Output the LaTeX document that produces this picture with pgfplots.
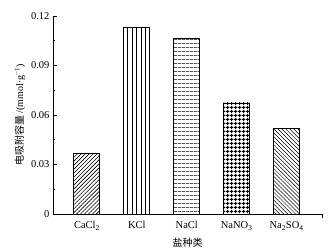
\documentclass[border=0pt]{standalone}
\usepackage{fontspec}
\setmainfont{Liberation Serif}
\newfontfamily\cjk{Noto Sans CJK SC}
\usepackage{pgfplots}
\pgfplotsset{compat=1.18}
\usetikzlibrary{patterns.meta}
\begin{document}
\begin{tikzpicture}
\useasboundingbox (0,0) rectangle (332pt,251pt);
\begin{axis}[
  at={(53pt,37pt)}, anchor=south west,
  scale only axis, width=269pt, height=198pt,
  xmin=-0.68, xmax=4.71, ymin=0, ymax=0.12,
  axis lines*=left,
  axis line style={line width=0.8pt},
  font=\fontsize{10.5}{12}\selectfont,
  /pgf/number format/assume math mode=true,
  ytick={0,0.03,0.06,0.09,0.12},
  yticklabels={0,0.03,0.06,0.09,0.12},
  minor y tick num=1,
  tick align=inside,
  major tick length=4pt, minor tick length=2.5pt,
  tick style={line width=0.6pt, black},
  xtick={0,1,2,3,4},
  xticklabels={CaCl\textsubscript{2},KCl,NaCl,NaNO\textsubscript{3},Na\textsubscript{2}SO\textsubscript{4}},
  x tick style={draw=none},
  extra x ticks={4.71}, extra x tick labels={},
  extra x tick style={x tick style={draw=black, line width=0.6pt}, major tick length=4pt},
  xlabel={\cjk 盐种类},
  ylabel={{\cjk 电吸附容量} /(mmol·g\textsuperscript{−1})},
  xlabel style={yshift=7pt, font=\fontsize{10}{11}\selectfont},
  ylabel style={yshift=-1pt, font=\fontsize{10}{11}\selectfont},
  ybar, bar width=26pt,
]
\addplot[bar shift=0pt, draw=black, line width=0.9pt, pattern={Lines[angle=45,distance=2.8pt,line width=0.6pt]}] coordinates {(0,0.0364)};
\addplot[bar shift=0pt, draw=black, line width=0.9pt, pattern={Lines[angle=90,distance=4.4pt,line width=0.4pt]}] coordinates {(1,0.1133)};
\addplot[bar shift=0pt, draw=black, line width=0.9pt, pattern={Lines[angle=0,distance=4pt,line width=0.4pt]}] coordinates {(2,0.1061)};
\addplot[bar shift=0pt, draw=black, line width=0.9pt, pattern={Hatch[angle=0,distance=4pt,line width=1pt]}] coordinates {(3,0.0673)};
\addplot[bar shift=0pt, draw=black, line width=0.9pt, pattern={Lines[angle=-45,distance=2.8pt,line width=0.5pt]}] coordinates {(4,0.0521)};
\end{axis}
\end{tikzpicture}
\end{document}
